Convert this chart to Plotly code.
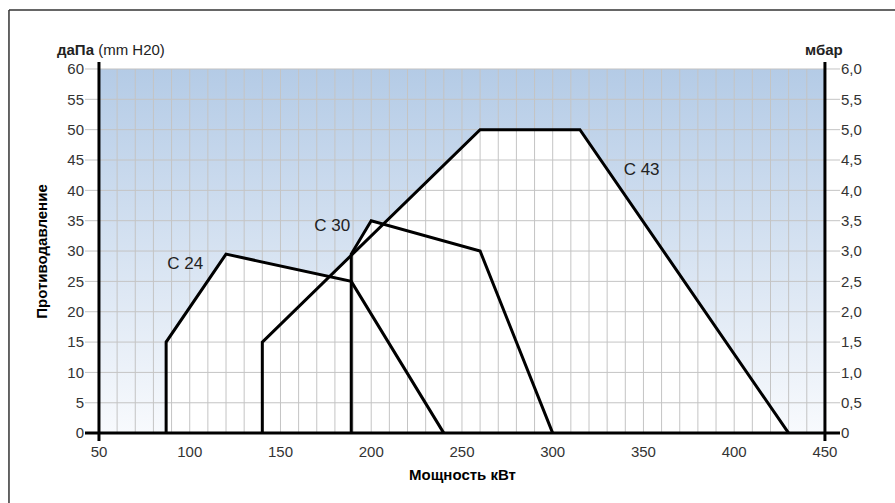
"""Back-pressure vs. burner power working fields (C 24 / C 30 / C 43)."""

import plotly.graph_objects as go

# --- data -----------------------------------------------------------------
x_ticks = [50, 100, 150, 200, 250, 300, 350, 400, 450]
y_ticks = [0, 5, 10, 15, 20, 25, 30, 35, 40, 45, 50, 55, 60]
mbar_ticks = [0, 0.5, 1.0, 1.5, 2.0, 2.5, 3.0, 3.5, 4.0, 4.5, 5.0, 5.5, 6.0]
mbar_labels = ["0", "0,5", "1,0", "1,5", "2,0", "2,5", "3,0", "3,5",
               "4,0", "4,5", "5,0", "5,5", "6,0"]
x_grid = list(range(60, 450, 10))

c24_kw = [87, 87, 120, 189, 240]
c24_dapa = [0, 15, 29.5, 25, 0]
c30_kw = [189, 189, 200, 260, 300]
c30_dapa = [0, 29.5, 35, 30, 0]
c43_kw = [140, 140, 260, 315, 430]
c43_dapa = [0, 15, 50, 50, 0]

curve_names = ["C 24", "C 30", "C 43"]
label_kw = [97.5, 178.5, 349]
label_dapa = [27.8, 34, 43.2]

X_LO, X_HI = x_ticks[0], x_ticks[-1]
Y_LO, Y_HI = y_ticks[0], y_ticks[-1]
X_RANGE = [42.3, 458.3]
Y_RANGE = [-1.3, 61.15]

FONT = "Liberation Sans, Arial, sans-serif"
GRID = "#c4c4c4"

fig = go.Figure()

# gradient background of the chart field
fig.add_trace(go.Scatter(
    x=[X_LO, X_HI, X_HI, X_LO, X_LO],
    y=[Y_LO, Y_LO, Y_HI, Y_HI, Y_LO],
    mode="lines", line=dict(width=0), fill="toself",
    fillgradient=dict(type="vertical", start=Y_LO, stop=Y_HI,
                      colorscale=[[0, "#f8fafd"], [1, "#b4cbe6"]]),
    hoverinfo="skip", showlegend=False,
))

# working fields are left white
for kw, dapa in [(c24_kw, c24_dapa), (c30_kw, c30_dapa), (c43_kw, c43_dapa)]:
    fig.add_trace(go.Scatter(
        x=kw, y=dapa, mode="lines", line=dict(width=0),
        fill="toself", fillcolor="white",
        hoverinfo="skip", showlegend=False,
    ))

# grid drawn as a trace so it sits above the gradient and white fills
gx, gy = [], []
for v in x_grid:
    gx += [v, v, None]
    gy += [Y_LO, Y_HI, None]
for v in y_ticks[1:]:
    gx += [X_RANGE[0], X_RANGE[1], None]
    gy += [v, v, None]
fig.add_trace(go.Scatter(
    x=gx, y=gy, mode="lines", line=dict(color=GRID, width=1),
    hoverinfo="skip", showlegend=False,
))

for kw, dapa, name in [(c24_kw, c24_dapa, "C 24"), (c30_kw, c30_dapa, "C 30"),
                       (c43_kw, c43_dapa, "C 43")]:
    fig.add_trace(go.Scatter(
        x=kw, y=dapa, mode="lines", name=name,
        line=dict(color="black", width=3), showlegend=False,
    ))

fig.add_trace(go.Scatter(
    x=label_kw, y=label_dapa, mode="text", text=curve_names,
    textfont=dict(family=FONT, size=17, color="#222"),
    hoverinfo="skip", showlegend=False,
))

# dummy trace to carry the mbar axis
fig.add_trace(go.Scatter(x=[X_LO], y=[0], yaxis="y2", mode="markers",
                         marker=dict(opacity=0), hoverinfo="skip",
                         showlegend=False))

axis_line = dict(color="black", width=3)
fig.add_shape(type="line", xref="x", yref="paper", x0=X_LO, x1=X_LO,
              y0=0, y1=1, line=axis_line)
fig.add_shape(type="line", xref="x", yref="paper", x0=X_HI, x1=X_HI,
              y0=0, y1=1, line=axis_line)
fig.add_shape(type="line", xref="paper", yref="y", x0=0, x1=1,
              y0=0, y1=0, line=axis_line)

# outer frame (left and top edges only are in view)
fig.add_shape(type="line", xref="paper", yref="paper",
              x0=-0.1007, x1=-0.1007, y0=-0.3, y1=1.137,
              line=dict(color="#333", width=1.5))
fig.add_shape(type="line", xref="paper", yref="paper",
              x0=-0.1007, x1=1.2, y0=1.137, y1=1.137,
              line=dict(color="#333", width=1.5))

fig.add_annotation(text="<b>даПа</b> (mm H20)", xref="paper", yref="paper",
                   x=-0.04, y=1.032, xanchor="left", yanchor="middle",
                   showarrow=False, font=dict(family=FONT, size=15, color="#222"))
fig.add_annotation(text="<b>мбар</b>", xref="paper", yref="paper",
                   x=1.007, y=1.032, xanchor="right", yanchor="middle",
                   showarrow=False, font=dict(family=FONT, size=15, color="#222"))

tick_font = dict(family=FONT, size=15, color="#333")
fig.update_layout(
    width=895, height=503,
    margin=dict(l=85, r=55, t=62, b=62),
    paper_bgcolor="white", plot_bgcolor="white",
    xaxis=dict(range=X_RANGE, tickvals=x_ticks, showgrid=False,
               zeroline=False, showline=False, ticks="", tickfont=tick_font,
               title=dict(text="<b>Мощность кВт</b>", standoff=10,
                          font=dict(family=FONT, size=15, color="black"))),
    yaxis=dict(range=Y_RANGE, tickvals=y_ticks, showgrid=False,
               zeroline=False, showline=False, ticks="", tickfont=tick_font,
               title=dict(text="<b>Противодавление</b>", standoff=16,
                          font=dict(family=FONT, size=15, color="black"))),
    yaxis2=dict(range=[v / 10 for v in Y_RANGE], tickvals=mbar_ticks,
                ticktext=mbar_labels, overlaying="y", side="right",
                showgrid=False, zeroline=False, showline=False, ticks="",
                tickfont=tick_font),
)

# drop the default 8px page margin so the figure fills the window exactly
fig.write_html("out.html", config={"displayModeBar": False},
               post_script="document.body.style.margin = '0';")
